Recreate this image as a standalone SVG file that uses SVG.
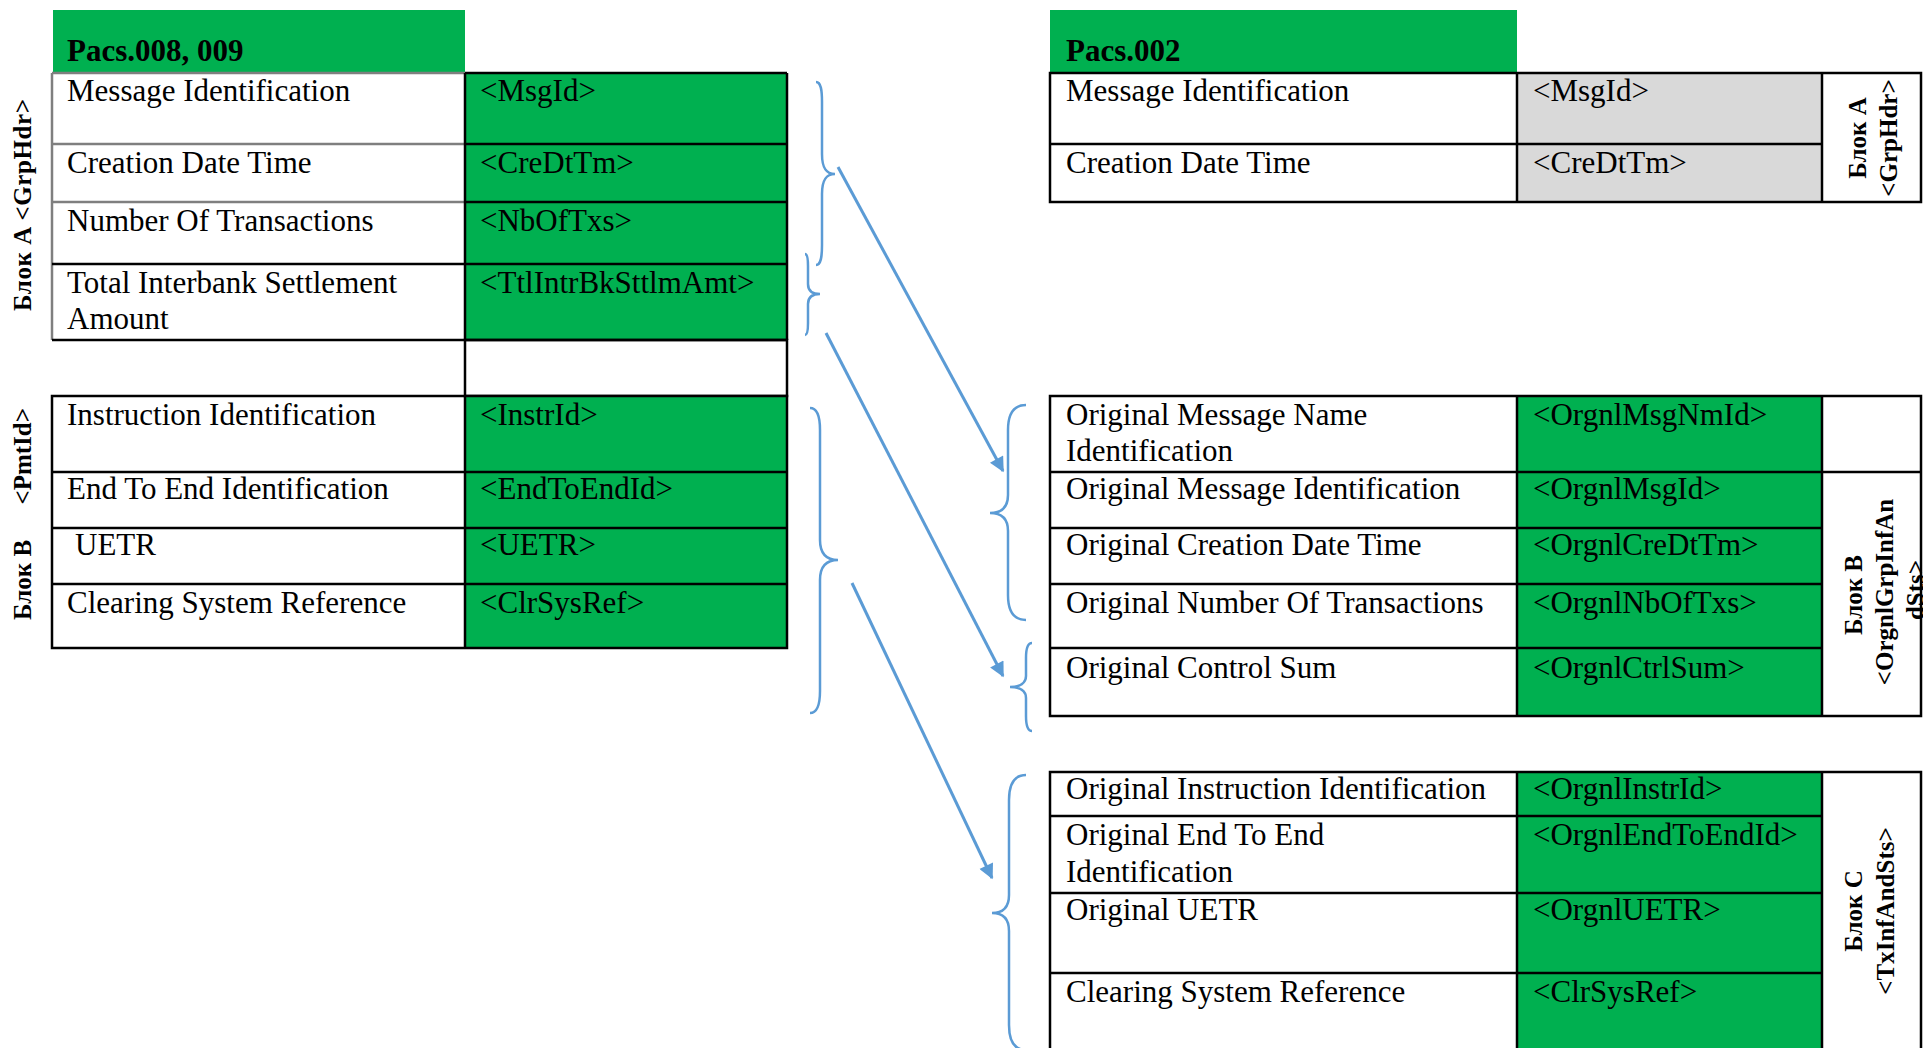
<svg xmlns="http://www.w3.org/2000/svg" width="1923" height="1048" viewBox="0 0 1923 1048">
<style>
.t{font-family:"Liberation Serif","Times New Roman",serif;font-size:31px;fill:#000}
.b{font-weight:bold}
.v{font-family:"Liberation Serif","Times New Roman",serif;font-weight:bold;font-size:25px;fill:#000}
.g{fill:#00b050}
.gr{fill:#d9d9d9}
.k{fill:none;stroke:#000;stroke-width:2.5}
.ln{stroke:#000;stroke-width:2.5}
.gl{stroke:#7f7f7f;stroke-width:2.5}
.br{fill:none;stroke:#5b9bd5;stroke-width:2.5}
.ar{fill:none;stroke:#5b9bd5;stroke-width:3;marker-end:url(#ah)}
</style>
<defs>
<marker id="ah" viewBox="0 0 10 10" refX="9" refY="5" markerUnits="userSpaceOnUse" markerWidth="18" markerHeight="15" orient="auto">
<path d="M0,0 L10,5 L0,10 z" fill="#5b9bd5"/>
</marker>
</defs>
<rect width="1923" height="1048" fill="#fff"/>

<g id="pacs008-header">
<rect class="g" x="53" y="10" width="412" height="63"/>
<text class="t b" x="67" y="61">Pacs.008, 009</text>
</g>

<g id="pacs008-blockA">
<rect class="g" x="465" y="73" width="322" height="267"/>
<line class="gl" x1="52" y1="73" x2="465" y2="73"/>
<line class="gl" x1="52" y1="144" x2="465" y2="144"/>
<line class="gl" x1="52" y1="202" x2="465" y2="202"/>
<line class="gl" x1="52" y1="73" x2="52" y2="340"/>
<line class="ln" x1="465" y1="73" x2="787" y2="73"/>
<line class="ln" x1="465" y1="144" x2="787" y2="144"/>
<line class="ln" x1="465" y1="202" x2="787" y2="202"/>
<line class="ln" x1="52" y1="264" x2="787" y2="264"/>
<line class="ln" x1="52" y1="340" x2="787" y2="340"/>
<line class="ln" x1="465" y1="73" x2="465" y2="340"/>
<line class="ln" x1="787" y1="73" x2="787" y2="340"/>
<text class="t" x="67" y="101">Message Identification</text>
<text class="t" x="480" y="101">&lt;MsgId&gt;</text>
<text class="t" x="67" y="173">Creation Date Time</text>
<text class="t" x="480" y="173">&lt;CreDtTm&gt;</text>
<text class="t" x="67" y="231">Number Of Transactions</text>
<text class="t" x="480" y="231">&lt;NbOfTxs&gt;</text>
<text class="t" x="67" y="293">Total Interbank Settlement</text>
<text class="t" x="67" y="329">Amount</text>
<text class="t" x="480" y="293">&lt;TtlIntrBkSttlmAmt&gt;</text>
</g>

<g id="pacs008-blank">
<rect class="k" x="465" y="340" width="322" height="56"/>
</g>

<g id="pacs008-blockB">
<rect class="g" x="465" y="396" width="322" height="252"/>
<rect class="k" x="52" y="396" width="735" height="252"/>
<line class="ln" x1="465" y1="396" x2="465" y2="648"/>
<line class="ln" x1="52" y1="472" x2="787" y2="472"/>
<line class="ln" x1="52" y1="528" x2="787" y2="528"/>
<line class="ln" x1="52" y1="584" x2="787" y2="584"/>
<text class="t" x="67" y="425">Instruction Identification</text>
<text class="t" x="480" y="425">&lt;InstrId&gt;</text>
<text class="t" x="67" y="499">End To End Identification</text>
<text class="t" x="480" y="499">&lt;EndToEndId&gt;</text>
<text class="t" x="75" y="555">UETR</text>
<text class="t" x="480" y="555">&lt;UETR&gt;</text>
<text class="t" x="67" y="613">Clearing System Reference</text>
<text class="t" x="480" y="613">&lt;ClrSysRef&gt;</text>
</g>

<g id="label-left-A">
<text class="v" transform="translate(31,205) rotate(-90)" text-anchor="middle" textLength="212" lengthAdjust="spacing">Блок A &lt;GrpHdr&gt;</text>
</g>
<g id="label-left-B">
<text class="v" transform="translate(31,620) rotate(-90)" text-anchor="start">Блок B</text>
<text class="v" transform="translate(31,408) rotate(-90)" text-anchor="end">&lt;PmtId&gt;</text>
</g>

<g id="pacs002-header">
<rect class="g" x="1050" y="10" width="467" height="63"/>
<text class="t b" x="1066" y="61">Pacs.002</text>
</g>

<g id="pacs002-blockA">
<rect class="gr" x="1517" y="73" width="305" height="129"/>
<rect class="k" x="1050" y="73" width="871" height="129"/>
<line class="ln" x1="1050" y1="144" x2="1822" y2="144"/>
<line class="ln" x1="1517" y1="73" x2="1517" y2="202"/>
<line class="ln" x1="1822" y1="73" x2="1822" y2="202"/>
<text class="t" x="1066" y="101">Message Identification</text>
<text class="t" x="1533" y="101">&lt;MsgId&gt;</text>
<text class="t" x="1066" y="173">Creation Date Time</text>
<text class="t" x="1533" y="173">&lt;CreDtTm&gt;</text>
<text class="v" transform="translate(1866,138) rotate(-90)" text-anchor="middle">Блок A</text>
<text class="v" transform="translate(1897,138) rotate(-90)" text-anchor="middle">&lt;GrpHdr&gt;</text>
</g>

<g id="pacs002-blockB">
<rect class="g" x="1517" y="396" width="305" height="320"/>
<rect class="k" x="1050" y="396" width="871" height="320"/>
<line class="ln" x1="1050" y1="472" x2="1921" y2="472"/>
<line class="ln" x1="1050" y1="528" x2="1822" y2="528"/>
<line class="ln" x1="1050" y1="584" x2="1822" y2="584"/>
<line class="ln" x1="1050" y1="648" x2="1822" y2="648"/>
<line class="ln" x1="1517" y1="396" x2="1517" y2="716"/>
<line class="ln" x1="1822" y1="396" x2="1822" y2="716"/>
<text class="t" x="1066" y="425">Original Message Name</text>
<text class="t" x="1066" y="461">Identification</text>
<text class="t" x="1533" y="425">&lt;OrgnlMsgNmId&gt;</text>
<text class="t" x="1066" y="499">Original Message Identification</text>
<text class="t" x="1533" y="499">&lt;OrgnlMsgId&gt;</text>
<text class="t" x="1066" y="555">Original Creation Date Time</text>
<text class="t" x="1533" y="555">&lt;OrgnlCreDtTm&gt;</text>
<text class="t" x="1066" y="613">Original Number Of Transactions</text>
<text class="t" x="1533" y="613">&lt;OrgnlNbOfTxs&gt;</text>
<text class="t" x="1066" y="678">Original Control Sum</text>
<text class="t" x="1533" y="678">&lt;OrgnlCtrlSum&gt;</text>
<text class="v" transform="translate(1862,595) rotate(-90)" text-anchor="middle">Блок B</text>
<text class="v" transform="translate(1893,592) rotate(-90)" text-anchor="middle">&lt;OrgnlGrpInfAn</text>
<text class="v" transform="translate(1924,590) rotate(-90)" text-anchor="middle">dSts&gt;</text>
</g>

<g id="pacs002-blockC">
<rect class="g" x="1517" y="772" width="305" height="290"/>
<rect class="k" x="1050" y="772" width="871" height="290"/>
<line class="ln" x1="1050" y1="816" x2="1822" y2="816"/>
<line class="ln" x1="1050" y1="893" x2="1822" y2="893"/>
<line class="ln" x1="1050" y1="973" x2="1822" y2="973"/>
<line class="ln" x1="1517" y1="772" x2="1517" y2="1062"/>
<line class="ln" x1="1822" y1="772" x2="1822" y2="1062"/>
<text class="t" x="1066" y="799">Original Instruction Identification</text>
<text class="t" x="1533" y="799">&lt;OrgnlInstrId&gt;</text>
<text class="t" x="1066" y="845">Original End To End</text>
<text class="t" x="1066" y="882">Identification</text>
<text class="t" x="1533" y="845">&lt;OrgnlEndToEndId&gt;</text>
<text class="t" x="1066" y="920">Original UETR</text>
<text class="t" x="1533" y="920">&lt;OrgnlUETR&gt;</text>
<text class="t" x="1066" y="1002">Clearing System Reference</text>
<text class="t" x="1533" y="1002">&lt;ClrSysRef&gt;</text>
<text class="v" transform="translate(1862,911) rotate(-90)" text-anchor="middle">Блок C</text>
<text class="v" transform="translate(1894,911) rotate(-90)" text-anchor="middle">&lt;TxInfAndSts&gt;</text>
</g>

<g id="connectors">
<path class="br" d="M816,82 C821,82 822,90 822,102 L822,154 C822,168 826,174 835,174 C826,174 822,180 822,194 L822,245 C822,257 821,265 816,265"/>
<path class="br" d="M805,254 C807,254 808,258 808,266 L808,284 C808,291 812,294 820,294 C812,294 808,297 808,304 L808,323 C808,331 807,335 805,335"/>
<path class="br" d="M810,408 C817,408 820,416 820,430 L820,540 C820,554 826,560 838,560 C826,560 820,566 820,580 L820,691 C820,705 817,713 810,713"/>
<path class="br" d="M1026,405 C1013,405 1008,415 1008,430 L1008,495 C1008,507 1002,513 990,513 C1002,513 1008,519 1008,531 L1008,595 C1008,610 1013,620 1026,620"/>
<path class="br" d="M1032,643 C1028,643 1026,649 1026,658 L1026,676 C1026,683 1020,687 1010,687 C1020,687 1026,691 1026,698 L1026,716 C1026,725 1028,731 1032,731"/>
<path class="br" d="M1026,775 C1013,775 1009,785 1009,800 L1009,895 C1009,907 1003,913 992,913 C1003,913 1009,919 1009,931 L1009,1025 C1009,1040 1013,1050 1026,1050"/>
<line class="ar" x1="838" y1="167" x2="1003" y2="471"/>
<line class="ar" x1="826" y1="333" x2="1003" y2="676"/>
<line class="ar" x1="852" y1="583" x2="992" y2="878"/>
</g>
</svg>
